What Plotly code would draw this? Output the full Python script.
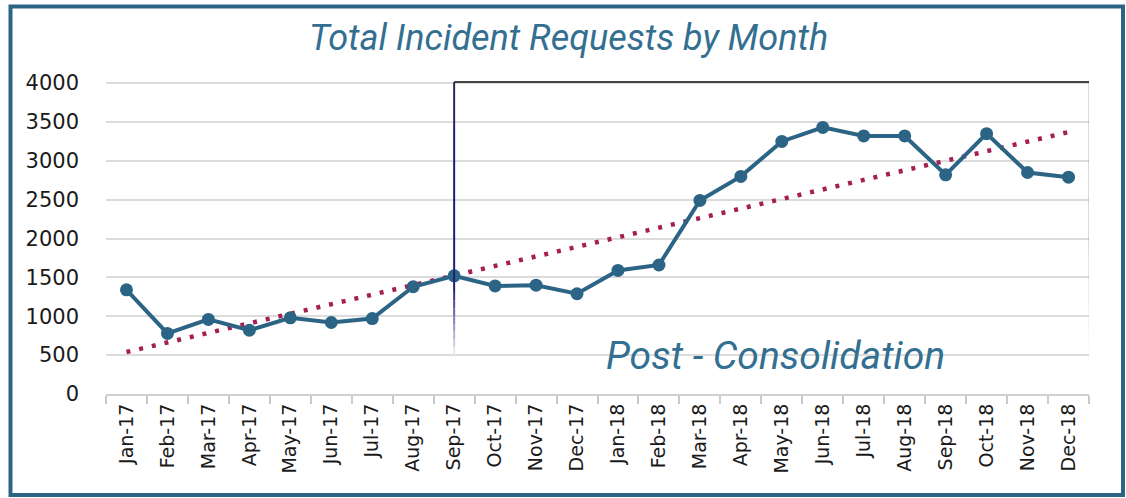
import plotly.graph_objects as go

months = ["Jan-17", "Feb-17", "Mar-17", "Apr-17", "May-17", "Jun-17", "Jul-17", "Aug-17",
          "Sep-17", "Oct-17", "Nov-17", "Dec-17", "Jan-18", "Feb-18", "Mar-18", "Apr-18",
          "May-18", "Jun-18", "Jul-18", "Aug-18", "Sep-18", "Oct-18", "Nov-18", "Dec-18"]
requests = [1340, 780, 960, 820, 980, 920, 970, 1380,
            1520, 1390, 1400, 1290, 1590, 1660, 2490, 2800,
            3250, 3430, 3320, 3320, 2820, 3350, 2850, 2790]
trend_x = ["Jan-17", "Dec-18"]
trend_y = [540, 3370]
y_ticks = [0, 500, 1000, 1500, 2000, 2500, 3000, 3500, 4000]

BLUE = "#2c6486"
TITLE_BLUE = "#336f91"
DOT_RED = "#a61f52"

fig = go.Figure()
fig.add_trace(go.Scatter(x=trend_x, y=trend_y, mode="lines",
                         line=dict(color=DOT_RED, width=4.5, dash="4px,9px"),
                         showlegend=False, hoverinfo="skip"))
fig.add_trace(go.Scatter(x=months, y=requests, mode="lines+markers",
                         line=dict(color=BLUE, width=4),
                         marker=dict(color=BLUE, size=13),
                         showlegend=False))

# post-consolidation box (left, top, right edges; sides fade out toward the bottom)
box_left, box_right, box_top = 8, 23.52, 4013
shapes = [
    dict(type="line", xref="x", yref="y", x0=box_left, x1=box_right, y0=box_top, y1=box_top,
         line=dict(color="#444444", width=2)),
    dict(type="line", xref="x", yref="y", x0=box_left, x1=box_left, y0=box_top, y1=3500,
         line=dict(color="#2a2a55", width=2)),
    dict(type="line", xref="x", yref="y", x0=box_left, x1=box_left, y0=3500, y1=1300,
         line=dict(color="#1f1f80", width=2)),
    dict(type="line", xref="x", yref="y", x0=box_right, x1=box_right, y0=box_top, y1=2900,
         line=dict(color="#444444", width=2)),
    dict(type="line", xref="x", yref="y", x0=box_right, x1=box_right, y0=2900, y1=1800,
         line=dict(color="#3a3a90", width=2)),
]
steps = 8
for i in range(steps):
    f = (i + 1) / (steps + 1)
    def mix(c):
        return int(c + (255 - c) * f)
    col_l = "rgb(%d,%d,%d)" % (mix(31), mix(31), mix(128))
    col_r = "rgb(%d,%d,%d)" % (mix(90), mix(80), mix(180))
    y_hi_l = 1300 - i * 100
    y_hi_r = 1800 - i * 170
    shapes.append(dict(type="line", xref="x", yref="y", x0=box_left, x1=box_left,
                       y0=y_hi_l, y1=y_hi_l - 100, line=dict(color=col_l, width=2)))
    shapes.append(dict(type="line", xref="x", yref="y", x0=box_right, x1=box_right,
                       y0=y_hi_r, y1=y_hi_r - 170, line=dict(color=col_r, width=2)))

# outer frame around the whole chart
shapes.append(dict(type="rect", xref="paper", yref="paper",
                   x0=(10.5 - 106) / 983, x1=(1123 - 106) / 983,
                   y0=(394 - 495) / 314, y1=(394 - 6.5) / 314,
                   line=dict(color=BLUE, width=4), layer="below"))

fig.update_layout(
    width=1126, height=498,
    margin=dict(l=106, r=37, t=80, b=104),
    paper_bgcolor="white", plot_bgcolor="white",
    title=dict(text="<i>Total Incident Requests by Month</i>", x=0.505, xanchor="center",
               y=0.925, yanchor="middle",
               font=dict(family="Roboto", size=36, color=TITLE_BLUE)),
    xaxis=dict(type="category", categoryorder="array", categoryarray=months,
               range=[-0.5, 23.5], tickangle=-90, tickson="boundaries",
               ticks="outside", ticklen=8, tickcolor="#c8c8c8", tickwidth=2,
               showline=True, linecolor="#d0d0d0", linewidth=2, showgrid=False,
               tickfont=dict(family="DejaVu Sans", size=19, color="#1a1a1a")),
    yaxis=dict(range=[0, 4040], tickvals=y_ticks, showgrid=True, gridcolor="#dcdcdc",
               gridwidth=2, zeroline=False, ticklabelstandoff=26,
               tickfont=dict(family="DejaVu Sans", size=21, color="#1a1a1a")),
    shapes=shapes,
    annotations=[dict(text="<i>Post - Consolidation</i>", xref="x", yref="y",
                      x=15.84, y=490, showarrow=False, xanchor="center", yanchor="middle",
                      font=dict(family="Roboto", size=39, color=TITLE_BLUE))],
)

fig.write_html("out.html", config={"displayModeBar": False},
               post_script="document.body.style.margin='0';")
